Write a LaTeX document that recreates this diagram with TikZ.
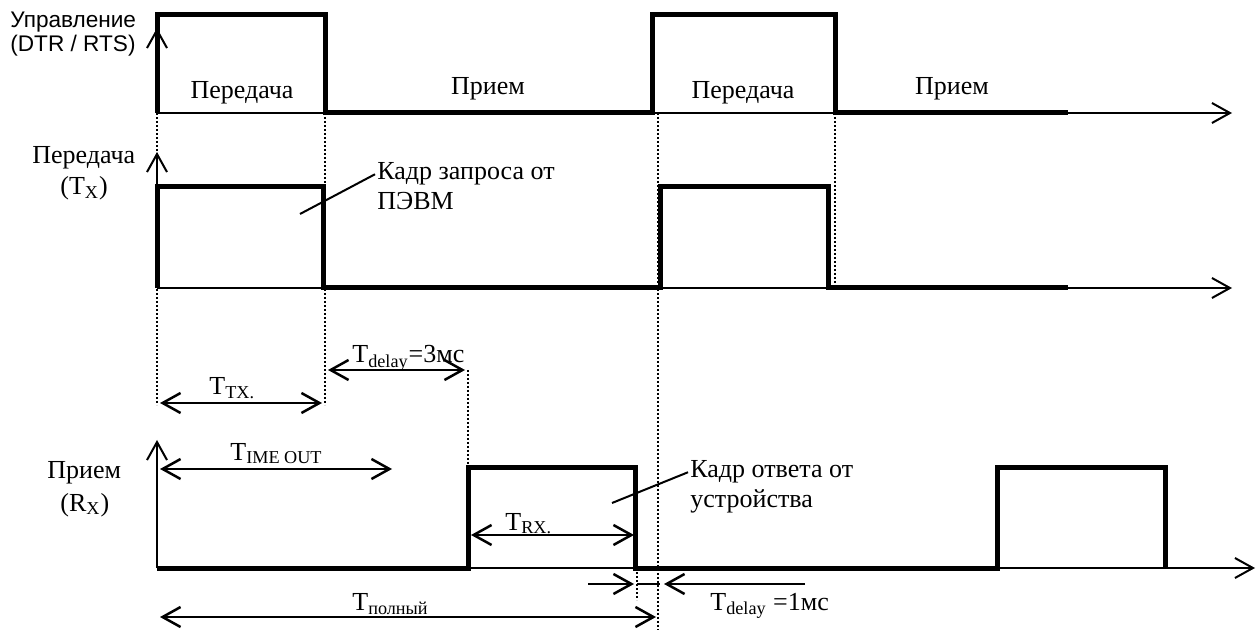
\documentclass[tikz,border=0pt]{standalone}
\usepackage{fontspec}
\setmainfont{Liberation Serif}
\newfontfamily\arialfont{Liberation Sans}
\usetikzlibrary{arrows.meta}
\begin{document}
\begin{tikzpicture}[x=0.5pt, y=-0.5pt,
  >={Straight Barb[length=9pt,width=10pt]},
  axis/.style={line width=1pt, ->},
  signal/.style={line width=2.5pt, line join=miter},
  guide/.style={line width=0.8pt, dash pattern=on 0.8pt off 1.2pt},
  span/.style={line width=1.25pt, <->},
  lbl/.style={font=\fontsize{13}{15}\selectfont, inner sep=1pt},
  sans/.style={font=\arialfont\fontsize{11.3}{13}\selectfont, inner sep=1pt}]
  \useasboundingbox (0,0) rectangle (1258,630);

  % DTR / RTS
  \draw[axis] (157,113) -- (157,28);
  \draw[axis] (157,113) -- (1232,113);
  \draw[signal] (157,113) -- (157,15) -- (325,15) -- (325,113) -- (652,113)
    -- (652,15) -- (835,15) -- (835,113) -- (1068,113);
  \node[sans, anchor=base west] (ctlA) at (8,28) {Управление};
  \node[sans, anchor=base west] (ctlB) at (8,52) {(DTR / RTS)};
  \node[lbl, anchor=base] (sendA) at (242,99) {Передача};
  \node[lbl, anchor=base] (recvA) at (488,95) {Прием};
  \node[lbl, anchor=base] (sendB) at (743,99) {Передача};
  \node[lbl, anchor=base] (recvB) at (952,95) {Прием};

  % Tx
  \draw[axis] (157,288) -- (157,152);
  \draw[axis] (157,288) -- (1232,288);
  \draw[signal] (157,288) -- (157,187) -- (323,187) -- (323,288) -- (660,288)
    -- (660,187) -- (828,187) -- (828,288) -- (1068,288);
  \node[lbl, anchor=base west] (txA) at (30,164) {Передача};
  \node[lbl, anchor=base west] (txB) at (58,195) {(T\textsubscript{X})};
  \node[lbl, anchor=base west] (reqA) at (375,180) {Кадр запроса от};
  \node[lbl, anchor=base west] (reqB) at (375,210) {ПЭВМ};
  \coordinate (txfrm) at (300,214);
  \draw[line width=1pt] (txfrm) -- (reqA.west);

  % Rx
  \draw[axis] (157,568) -- (157,440);
  \draw[axis] (157,568) -- (1255,568);
  \draw[signal] (157,568) -- (468,568) -- (468,467) -- (635,467) -- (635,568)
    -- (997,568) -- (997,467) -- (1165,467) -- (1165,568);
  \node[lbl, anchor=base west] (rxA) at (45,479) {Прием};
  \node[lbl, anchor=base west] (rxB) at (58,511) {(R\textsubscript{X})};
  \node[lbl, anchor=base west] (ansA) at (688,478) {Кадр ответа от};
  \node[lbl, anchor=base west] (ansB) at (688,508) {устройства};
  \coordinate (rxfrm) at (612,503);
  \draw[line width=1pt] (rxfrm) -- (ansA.west);

  % dotted guides
  \draw[guide] (157,113) -- (157,405);
  \draw[guide] (325,113) -- (325,405);
  \draw[guide] (658,113) -- (658,630);
  \draw[guide] (835,113) -- (835,288);
  \draw[guide] (468,370) -- (468,467);
  \draw[guide] (637,568) -- (637,600);

  % times
  \draw[span] (160,403) -- (322,403);
  \node[lbl, anchor=base west] (tTX) at (207,395) {T\textsubscript{TX.}};
  \draw[span] (328,370) -- (465,370);
  \node[lbl, anchor=base west] (tDelayA) at (350,363) {T\textsubscript{delay}=3мс};
  \draw[span] (160,469) -- (392,469);
  \node[lbl, anchor=base west] (tOut) at (228,460) {T\textsubscript{IME OUT}};
  \draw[span] (471,535) -- (634,535);
  \node[lbl, anchor=base west] (tRX) at (503,530) {T\textsubscript{RX.}};
  \draw[span] (160,617) -- (656,617);
  \node[lbl, anchor=base west] (tFull) at (350,610) {T\textsubscript{полный}};
  \draw[line width=1.25pt, ->] (588,584) -- (634,584);
  \draw[line width=1pt] (637,584) -- (660,584);
  \draw[line width=1.25pt, ->] (805,584) -- (664,584);
  \node[lbl, anchor=base west] (tDelayB) at (708,610) {T\textsubscript{delay} =1мс};
\end{tikzpicture}
\end{document}
